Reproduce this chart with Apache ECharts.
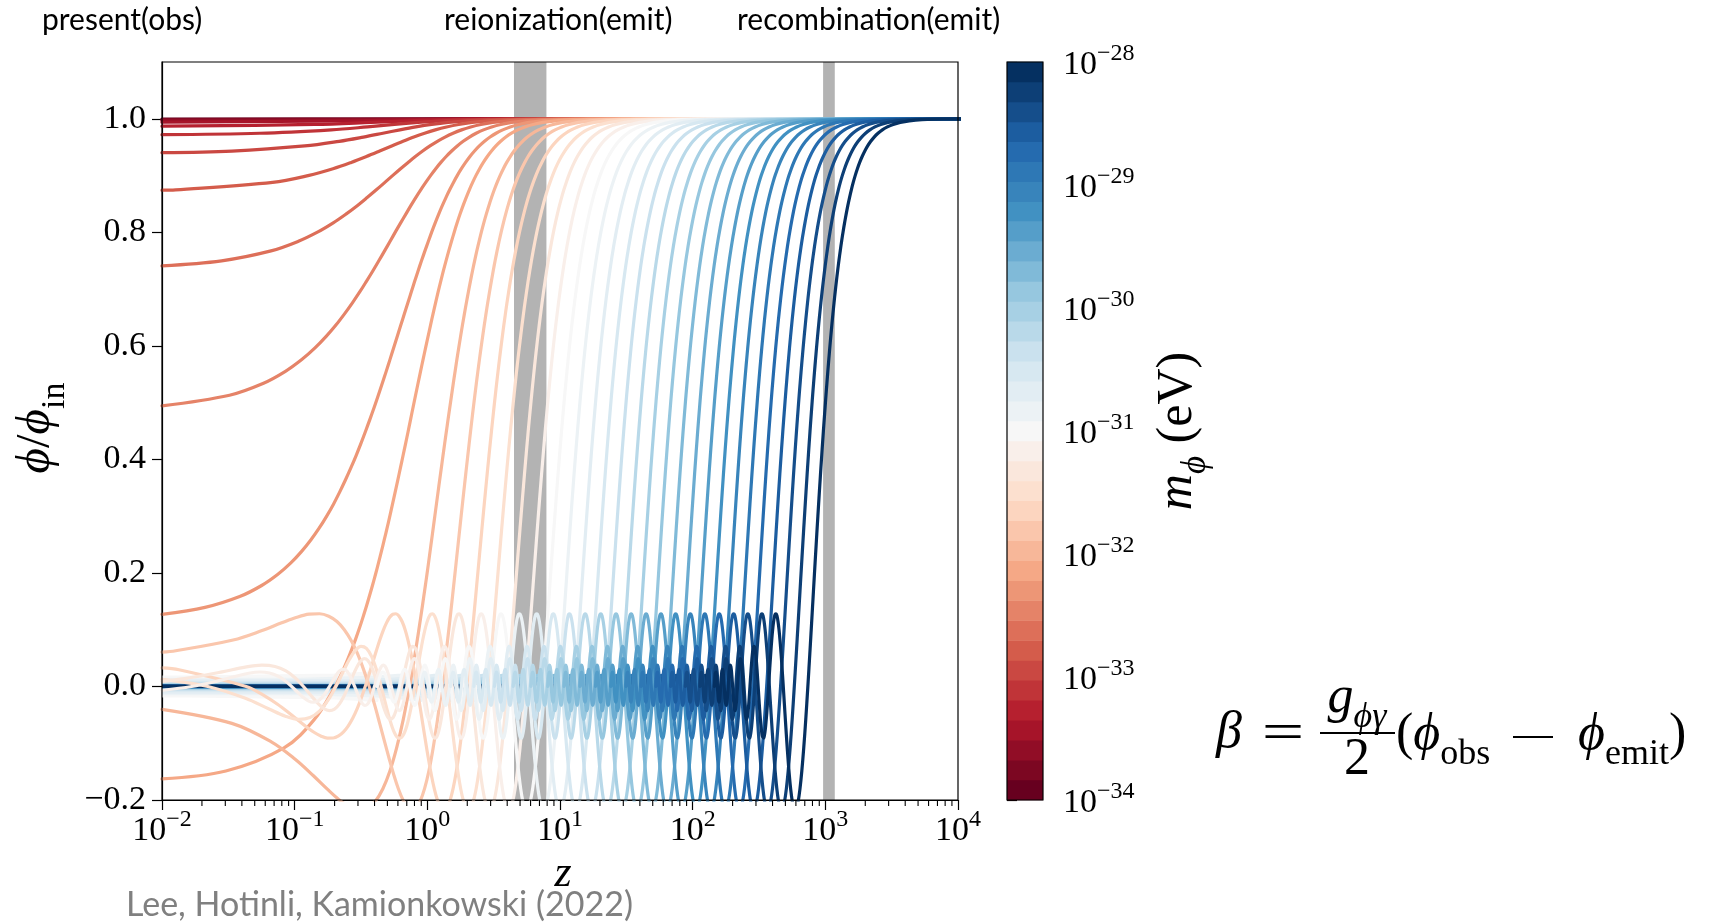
<!DOCTYPE html>
<html>
<head>
<meta charset="utf-8">
<title>Scalar field evolution</title>
<script src="https://cdn.jsdelivr.net/npm/echarts@6.0.0/dist/echarts.min.js"></script>
<style>
  html, body { margin: 0; padding: 0; background: #ffffff; }
  #chart { width: 1720px; height: 924px; }
</style>
</head>
<body>
<div id="chart"></div>
<script>
// ---------------------------------------------------------------------------
// Data
// ---------------------------------------------------------------------------

// Field phase m*t reached today, one entry per mass (10^-34 ... 10^-28 eV, 6 per decade)
const curvePhaseToday = [
  0.061, 0.08954, 0.13142, 0.19290, 0.28314, 0.41559, 0.61, 0.89536, 1.31421, 1.92899,
  2.81, 3.85, 6.1, 8.9536, 13.1421, 19.2899, 28.3137, 41.5588, 61, 89.536,
  131.421, 192.899, 283.137, 415.588, 610, 895.36, 1314.21, 1928.99, 2831.37, 4155.88,
  6100, 8953.6, 13142.1, 19289.9, 28313.7, 41558.8, 61000
];

// phi/phi_in at z = 0.01 for the masses whose curve is still a single resolved line there
const curveValueAtLeftEdge = [
  0.99939, 0.99869, 0.99718, 0.99394, 0.98697, 0.97205, 0.94037, 0.87419, 0.74100,
  0.49419, 0.12694, -0.16268, -0.04043, 0.06035, 0.03270, 0.01245, 0.00900, -0.00686
];

// Normalised field profile phi/phi_in against the phase m*t
const fieldPhase = [
  0.0491, 0.0982, 0.1473, 0.1963, 0.2454, 0.2945, 0.3436, 0.3927, 0.4418, 0.4909,
  0.5400, 0.5890, 0.6381, 0.6872, 0.7363, 0.7854, 0.8345, 0.8836, 0.9327, 0.9817,
  1.0308, 1.0799, 1.1290, 1.1781, 1.2272, 1.2763, 1.3254, 1.3744, 1.4235, 1.4726,
  1.5217, 1.5708, 1.6199, 1.6690, 1.7181, 1.7671, 1.8162, 1.8653, 1.9144, 1.9635,
  2.0126, 2.0617, 2.1108, 2.1598, 2.2089, 2.2580, 2.3071, 2.3562, 2.4053, 2.4544,
  2.5035, 2.5525, 2.6016, 2.6507, 2.6998, 2.7489, 2.7980, 2.8471, 2.8962, 2.9452,
  2.9943, 3.0434, 3.0925, 3.1416,
  3.3379, 3.5343, 3.7306, 3.9270, 4.1233, 4.3197, 4.5160, 4.7124, 4.9087, 5.1051,
  5.3014, 5.4978, 5.6941, 5.8905, 6.0868, 6.2832, 6.4795, 6.6759, 6.8722, 7.0686,
  7.2649, 7.4613, 7.6576, 7.8540, 8.0503, 8.2467, 8.4430, 8.6394, 8.8357, 9.0321,
  9.2284, 9.4248, 9.6211, 9.8175, 10.0138, 10.2102, 10.4065, 10.6029, 10.7992, 10.9956,
  11.1919, 11.3883, 11.5846, 11.7810, 11.9773, 12.1737, 12.3700, 12.5664,
  12.9591, 13.3518, 13.7445, 14.1372, 14.5299, 14.9226, 15.3153, 15.7080,
  16.1007, 16.4934, 16.8861, 17.2788, 17.6715, 18.0642, 18.4569, 18.8496,
  19.2423, 19.6350, 20.0277, 20.4204, 20.8131, 21.2058, 21.5984, 21.9911,
  22.3838, 22.7765, 23.1692, 23.5619, 23.9546, 24.3473, 24.7400, 25.1327,
  25.5254, 25.9181, 26.3108, 26.7035, 27.0962, 27.4889, 27.8816, 28.2743,
  28.6670, 29.0597, 29.4524, 29.8451, 30.2378, 30.6305, 31.0232, 31.4159,
  31.8086, 32.2013, 32.5940, 32.9867, 33.3794, 33.7721, 34.1648, 34.5575,
  34.9502, 35.3429, 35.7356, 36.1283, 36.5210, 36.9137, 37.3064, 37.6991,
  38.0918, 38.4845, 38.8772, 39.2699, 39.6626, 40.0553, 40.4480, 40.8407
];
const fieldRatio = [
  0.99960, 0.99839, 0.99639, 0.99358, 0.98999, 0.98561, 0.98044, 0.97450, 0.96779, 0.96032,
  0.95211, 0.94317, 0.93350, 0.92313, 0.91206, 0.90032, 0.88791, 0.87487, 0.86120, 0.84693,
  0.83207, 0.81665, 0.80069, 0.78421, 0.76724, 0.74979, 0.73190, 0.71359, 0.69487, 0.67579,
  0.65636, 0.63662, 0.61658, 0.59629, 0.57575, 0.55501, 0.53409, 0.51302, 0.49182, 0.47053,
  0.44917, 0.42777, 0.40636, 0.38497, 0.36362, 0.34234, 0.32116, 0.30011, 0.27920, 0.25847,
  0.23795, 0.21765, 0.19761, 0.17784, 0.15837, 0.13921, 0.12040, 0.10196, 0.08390, 0.06624,
  0.04900, 0.03221, 0.01587, 0,
  -0.05845, -0.10828, -0.14892, -0.18006, -0.20165, -0.21388, -0.21718, -0.21221, -0.19980, -0.18097,
  -0.15684, -0.12862, -0.09757, -0.06497, -0.03205, 0, 0.03011, 0.05732, 0.08084, 0.10004,
  0.11445, 0.12382, 0.12808, 0.12732, 0.12183, 0.11203, 0.09848, 0.08185, 0.06288, 0.04237,
  0.02114, 0, -0.02028, -0.03898, -0.05548, -0.06926, -0.07990, -0.08714, -0.09082, -0.09095,
  -0.08763, -0.08113, -0.07177, -0.06002, -0.04639, -0.03144, -0.01577, 0,
  0.02953, 0.05296, 0.06722, 0.07074, 0.06359, 0.04739, 0.02499, 0,
  -0.02377, -0.04287, -0.05471, -0.05787, -0.05228, -0.03914, -0.02073, 0,
  0.01989, 0.03601, 0.04613, 0.04897, 0.04439, 0.03335, 0.01772, 0,
  -0.01710, -0.03105, -0.03988, -0.04244, -0.03857, -0.02904, -0.01547, 0,
  0.01499, 0.02728, 0.03511, 0.03745, 0.03410, 0.02572, 0.01373, 0,
  -0.01335, -0.02433, -0.03137, -0.03351, -0.03055, -0.02309, -0.01234, 0,
  0.01203, 0.02196, 0.02835, 0.03032, 0.02768, 0.02094, 0.01120, 0,
  -0.01095, -0.02001, -0.02585, -0.02768, -0.02530, -0.01916, -0.01026, 0,
  0.01005, 0.01837, 0.02376, 0.02547, 0.02329, 0.01765, 0.00946, 0
];

// Envelope of the fast oscillations once they are too dense to resolve
const tailPhase = [40.84, 50, 60, 80, 100, 150, 200, 300, 500, 1000, 2000, 5000, 10000, 30000, 61000];
const tailAmplitude = [0.0245, 0.0200, 0.0167, 0.0125, 0.0100, 0.0067, 0.0050, 0.0033, 0.0020, 0.0010, 0.0005, 0.0002, 0.0001, 0.000033, 0.000016];

// Cosmic age t(z)/t0
const ageRedshift = [
  0.01, 0.02, 0.03, 0.05, 0.07, 0.1, 0.15, 0.2, 0.3, 0.4, 0.5, 0.7, 1, 1.5, 2, 3, 5, 7, 10,
  20, 30, 50, 100, 200, 300, 500, 700, 1000, 1500, 2000, 3000, 5000, 7000, 10000, 20000, 50000, 100000
];
const ageFraction = [
  0.98961, 0.97937, 0.96928, 0.94953, 0.93033, 0.90255, 0.85880, 0.81801, 0.74436, 0.67997,
  0.62347, 0.52969, 0.42464, 0.30986, 0.23782, 0.15559, 0.084964, 0.055196, 0.034209,
  0.012922, 0.0071779, 0.0033773, 0.0011918, 0.00041198, 0.00021883, 0.000097132, 0.000056257,
  0.000031175, 0.000015682, 0.0000095252, 0.0000046411, 0.0000018279, 9.7533e-7, 4.9587e-7,
  1.2998e-7, 2.1449e-8, 5.4218e-9
];

// Initial field value, set deep in the early universe
const initialRedshift = 20000;
const initialValue = 1;

// Shaded epochs: reionization and recombination
const epochSpans = [[4.5, 7.9], [962, 1178]];

// Axis ranges and ticks
const zRange = [0.01, 10000];
const phiRange = [-0.2, 1.1];
const phiTicks = [-0.2, 0, 0.2, 0.4, 0.6, 0.8, 1.0];
const massExponentRange = [-34, -28];

// ---------------------------------------------------------------------------
// Helpers
// ---------------------------------------------------------------------------
const SERIF = '"Liberation Serif", "DejaVu Serif", serif';
const SANS = 'Lato, "Open Sans", sans-serif';

const RDBU = ['#67001f', '#b2182b', '#d6604d', '#f4a582', '#fddbc7', '#f7f7f7',
              '#d1e5f0', '#92c5de', '#4393c3', '#2166ac', '#053061'];
function hexToRgb(h) { return [1, 3, 5].map(i => parseInt(h.substr(i, 2), 16)); }
function curveColor(k) {
  const t = k / (curvePhaseToday.length - 1);
  const p = t * (RDBU.length - 1);
  const i = Math.min(RDBU.length - 2, Math.floor(p));
  const f = p - i;
  const a = hexToRgb(RDBU[i]), b = hexToRgb(RDBU[i + 1]);
  const c = a.map((v, j) => Math.round(v + (b[j] - v) * f));
  return 'rgb(' + c.join(',') + ')';
}

// redshift at which the universe had a given fraction of today's age
function redshiftAtAge(tau) {
  if (tau >= ageFraction[0]) return null;
  for (let i = 0; i < ageFraction.length - 1; i++) {
    const t0 = ageFraction[i], t1 = ageFraction[i + 1];
    if (tau <= t0 && tau >= t1) {
      const f = Math.log(t0 / tau) / Math.log(t0 / t1);
      const l0 = Math.log(1 + ageRedshift[i]), l1 = Math.log(1 + ageRedshift[i + 1]);
      return Math.exp(l0 + f * (l1 - l0)) - 1;
    }
  }
  return Infinity;
}

function lineData(k) {
  const phaseNow = curvePhaseToday[k];
  const pts = [[initialRedshift, initialValue]];
  for (let i = 0; i < fieldPhase.length; i++) {
    const z = redshiftAtAge(fieldPhase[i] / phaseNow);
    if (z === null) break;
    if (z < initialRedshift) pts.push([z, fieldRatio[i]]);
  }
  if (k < curveValueAtLeftEdge.length) pts.push([zRange[0], curveValueAtLeftEdge[k]]);
  return pts;
}

function bandData(k) {
  if (k < curveValueAtLeftEdge.length) return null;
  const phaseNow = curvePhaseToday[k];
  const env = [];
  for (let i = 0; i < tailPhase.length; i++) {
    const z = redshiftAtAge(tailPhase[i] / phaseNow);
    if (z === null) break;
    env.push([z, tailAmplitude[i]]);
  }
  env.push([zRange[0], env[env.length - 1][1]]);
  return env;
}

function powerLabel(exp) {
  return '{b|10}{s|' + (exp < 0 ? '\u2212' + (-exp) : String(exp)) + '}';
}
const powerRich = {
  b: { fontFamily: SERIF, fontSize: 34, color: '#000', padding: [6, 0, 0, 0], verticalAlign: 'bottom' },
  s: { fontFamily: SERIF, fontSize: 24, color: '#000', verticalAlign: 'top' }
};

// ---------------------------------------------------------------------------
// Layout
// ---------------------------------------------------------------------------
const plot = { left: 162, top: 62, width: 796, height: 738 };
const bar = { left: 1007, top: 62, width: 36, height: 738 };

// ---------------------------------------------------------------------------
// Series
// ---------------------------------------------------------------------------
const series = [];

series.push({
  type: 'custom', name: 'epochs', xAxisIndex: 0, yAxisIndex: 0, z: 1, silent: true,
  data: epochSpans, encode: { x: [0, 1] },
  renderItem: function (params, api) {
    const a = api.coord([api.value(0), phiRange[1]]);
    const b = api.coord([api.value(1), phiRange[0]]);
    return { type: 'rect', shape: { x: a[0], y: a[1], width: b[0] - a[0], height: b[1] - a[1] },
             style: { fill: '#b3b3b3' } };
  }
});

curvePhaseToday.forEach(function (x0, k) {
  const color = curveColor(k);
  series.push({
    type: 'line', xAxisIndex: 0, yAxisIndex: 0, z: 2, silent: true, clip: true,
    data: lineData(k), showSymbol: false, symbol: 'none', smooth: 0.35,
    lineStyle: { color: color, width: 3.2, cap: 'round', join: 'round' }
  });
  const band = bandData(k);
  if (band) {
    series.push({
      type: 'custom', xAxisIndex: 0, yAxisIndex: 0, z: 2, silent: true, clip: true,
      data: [[band[0][0], 0]],
      renderItem: function (params, api) {
        const upper = band.map(p => api.coord([p[0], p[1]]));
        const lower = band.slice().reverse().map(p => api.coord([p[0], -p[1]]));
        return { type: 'polygon', shape: { points: upper.concat(lower) },
                 style: { fill: color, stroke: color, lineWidth: 3.2, lineJoin: 'round' } };
      }
    });
  }
});

// minor ticks of the redshift axis
const minorTicks = [];
for (let e = -2; e < 4; e++) for (let d = 2; d <= 9; d++) minorTicks.push([d * Math.pow(10, e), phiRange[0]]);
series.push({
  type: 'custom', xAxisIndex: 0, yAxisIndex: 0, z: 6, silent: true, clip: false,
  data: minorTicks,
  renderItem: function (params, api) {
    const c = api.coord([api.value(0), phiRange[0]]);
    return { type: 'line', shape: { x1: c[0], y1: c[1], x2: c[0], y2: c[1] + 6 },
             style: { stroke: '#000', lineWidth: 1.1 } };
  }
});

// colour bar: one block per mass
const nLevels = curvePhaseToday.length;
const span = massExponentRange[1] - massExponentRange[0];
series.push({
  type: 'custom', xAxisIndex: 1, yAxisIndex: 1, silent: true,
  data: curvePhaseToday.map((_, i) => [0.5, massExponentRange[0] + span * i / nLevels,
                                        massExponentRange[0] + span * (i + 1) / nLevels]),
  encode: { x: 0, y: [1, 2] },
  renderItem: function (params, api) {
    const a = api.coord([0, api.value(2)]);
    const b = api.coord([1, api.value(1)]);
    return { type: 'rect', shape: { x: a[0], y: a[1] - 0.3, width: b[0] - a[0], height: b[1] - a[1] + 0.6 },
             style: { fill: curveColor(params.dataIndex) } };
  }
});

// ---------------------------------------------------------------------------
// Option
// ---------------------------------------------------------------------------
const axisLineStyle = { color: '#000', width: 1.2 };
const mathMain = 52, mathSub = 36;
const mathRich = {
  i: { fontFamily: SERIF, fontStyle: 'italic', fontSize: mathMain, fill: '#000', padding: [0, 0, 12, 0], verticalAlign: 'top' },
  r: { fontFamily: SERIF, fontSize: mathMain, fill: '#000', padding: [0, 0, 12, 0], verticalAlign: 'top' },
  s: { fontFamily: SERIF, fontSize: mathSub, fill: '#000', verticalAlign: 'bottom' },
  si: { fontFamily: SERIF, fontStyle: 'italic', fontSize: mathSub, fill: '#000', verticalAlign: 'bottom' }
};

const option = {
  animation: false,
  backgroundColor: '#ffffff',
  grid: [
    { left: plot.left, top: plot.top, width: plot.width, height: plot.height, containLabel: false },
    { left: bar.left, top: bar.top, width: bar.width, height: bar.height, containLabel: false }
  ],
  xAxis: [
    {
      type: 'log', logBase: 10, gridIndex: 0, min: zRange[0], max: zRange[1],
      axisLine: { show: true, onZero: false, lineStyle: axisLineStyle },
      axisTick: { show: true, inside: false, length: 10, lineStyle: axisLineStyle },
      axisLabel: { margin: 8, formatter: v => powerLabel(Math.round(Math.log10(v))), rich: powerRich },
      splitLine: { show: false }, minorTick: { show: false }
    },
    { type: 'value', gridIndex: 1, min: 0, max: 1, show: false }
  ],
  yAxis: [
    {
      type: 'value', gridIndex: 0, min: phiRange[0], max: phiRange[1], interval: 0.2,
      axisLine: { show: true, onZero: false, lineStyle: axisLineStyle },
      axisTick: { show: true, inside: false, length: 10, lineStyle: axisLineStyle, customValues: phiTicks },
      axisLabel: {
        margin: 16, customValues: phiTicks, fontFamily: SERIF, fontSize: 34, color: '#000',
        formatter: v => (v < -1e-9 ? '\u2212' : '') + Math.abs(v).toFixed(1)
      },
      splitLine: { show: false }
    },
    {
      type: 'value', gridIndex: 1, position: 'right', min: massExponentRange[0], max: massExponentRange[1], interval: 1,
      axisLine: { show: false },
      axisTick: { show: true, inside: false, length: 10, lineStyle: axisLineStyle },
      axisLabel: { margin: 20, formatter: v => powerLabel(Math.round(v)), rich: powerRich },
      splitLine: { show: false }
    }
  ],
  series: series,
  graphic: [
    // frames
    { type: 'rect', z: 100, silent: true,
      shape: { x: plot.left, y: plot.top, width: plot.width, height: plot.height },
      style: { fill: null, stroke: '#000', lineWidth: 1.2 } },
    { type: 'rect', z: 100, silent: true,
      shape: { x: bar.left, y: bar.top, width: bar.width, height: bar.height },
      style: { fill: null, stroke: '#000', lineWidth: 1.2 } },
    // epoch captions
    { type: 'text', z: 100, x: 42, y: 20, style: { text: 'present(obs)', font: '30px ' + SANS, fill: '#000', verticalAlign: 'middle' } },
    { type: 'text', z: 100, x: 444, y: 20, style: { text: 'reionization(emit)', font: '30px ' + SANS, fill: '#000', verticalAlign: 'middle' } },
    { type: 'text', z: 100, x: 737, y: 20, style: { text: 'recombination(emit)', font: '30px ' + SANS, fill: '#000', verticalAlign: 'middle' } },
    // axis titles
    { type: 'text', z: 100, x: 563, y: 874,
      style: { text: 'z', font: 'italic 44px ' + SERIF, fill: '#000', align: 'center', verticalAlign: 'middle' } },
    { type: 'text', z: 100, x: 42, y: 428, rotation: Math.PI / 2,
      style: {
        text: '{i|\u03d5}{r|/}{i|\u03d5}{s|in}', align: 'center', verticalAlign: 'middle',
        rich: {
          i: { fontFamily: SERIF, fontStyle: 'italic', fontSize: 49, fill: '#000', padding: [0, 0, 11, 0], verticalAlign: 'top' },
          r: { fontFamily: SERIF, fontSize: 49, fill: '#000', padding: [0, 0, 11, 0], verticalAlign: 'top' },
          s: { fontFamily: SERIF, fontSize: 34, fill: '#000', verticalAlign: 'bottom' }
        }
      } },
    { type: 'text', z: 100, x: 1183, y: 431, rotation: Math.PI / 2,
      style: {
        text: '{i|m}{s|\u03d5}{r| (eV)}', align: 'center', verticalAlign: 'middle',
        rich: {
          i: { fontFamily: SERIF, fontStyle: 'italic', fontSize: 50, fill: '#000', padding: [0, 0, 11, 0], verticalAlign: 'top' },
          r: { fontFamily: SERIF, fontSize: 50, fill: '#000', padding: [0, 0, 11, 0], verticalAlign: 'top' },
          s: { fontFamily: SERIF, fontStyle: 'italic', fontSize: 35, fill: '#000', verticalAlign: 'bottom' }
        }
      } },
    // citation
    { type: 'text', z: 110, x: 126, y: 905,
      style: { text: 'Lee, Hotinli, Kamionkowski (2022)', font: '34px ' + SANS, fill: '#808080', verticalAlign: 'middle' } },
    // coupling relation
    { type: 'text', z: 100, x: 1216, y: 733,
      style: { text: '\u03b2', font: 'italic ' + mathMain + 'px ' + SERIF, fill: '#000', verticalAlign: 'middle' } },
    { type: 'text', z: 100, x: 1283, y: 735, scaleX: 1.45,
      style: { text: '=', font: mathMain + 'px ' + SERIF, fill: '#000', align: 'center', verticalAlign: 'middle' } },
    { type: 'text', z: 100, x: 1357, y: 704,
      style: { text: '{i|g}{si|\u03d5\u03b3}', align: 'center', verticalAlign: 'middle', rich: mathRich } },
    { type: 'line', z: 100, shape: { x1: 1320, y1: 733, x2: 1395, y2: 733 }, style: { stroke: '#000', lineWidth: 2 } },
    { type: 'text', z: 100, x: 1357, y: 760,
      style: { text: '2', font: mathMain + 'px ' + SERIF, fill: '#000', align: 'center', verticalAlign: 'middle' } },
    { type: 'text', z: 100, x: 1396, y: 741,
      style: { text: '{r|(}{i|\u03d5}{s|obs}', verticalAlign: 'middle', rich: mathRich } },
    { type: 'line', z: 100, shape: { x1: 1513, y1: 737, x2: 1553, y2: 737 }, style: { stroke: '#000', lineWidth: 2.2 } },
    { type: 'text', z: 100, x: 1578, y: 741,
      style: { text: '{i|\u03d5}{s|emit}{r|)}', verticalAlign: 'middle', rich: mathRich } }
  ]
};

const chart = echarts.init(document.getElementById('chart'), null, { renderer: 'canvas' });
chart.setOption(option);
</script>
</body>
</html>
